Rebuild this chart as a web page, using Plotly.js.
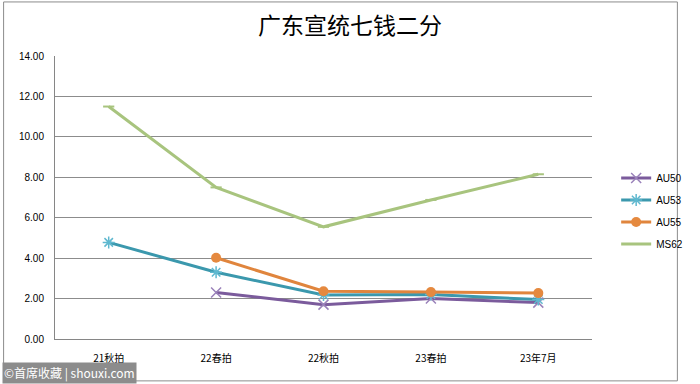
<!DOCTYPE html>
<html><head><meta charset="utf-8">
<script src="https://cdn.plot.ly/plotly-3.0.1.min.js"></script>
<style>html,body{margin:0;padding:0;background:#fff}#chart{width:700px;height:384px}</style>
</head><body><div id="chart"></div>
<script>
const categories = ['21秋拍','22春拍','22秋拍','23春拍','23年7月'];
const au50 = [null, 2.30, 1.70, 2.00, 1.80];
const au53 = [4.78, 3.30, 2.18, 2.20, 1.95];
const au55 = [null, 4.02, 2.36, 2.32, 2.27];
const ms62 = [11.50, 7.50, 5.55, 6.88, 8.15];
const yTicks = [0, 2, 4, 6, 8, 10, 12, 14];

const traces = [
  {name:'AU50', y:au50, line:{color:'#7b5b9c', width:3}, marker:{symbol:'x-thin-open', size:10, color:'#9a82ba', line:{width:1.5, color:'#9a82ba'}}},
  {name:'AU53', y:au53, line:{color:'#3b98ad', width:3}, marker:{symbol:'asterisk-open', size:10, color:'#5fb8cf', line:{width:1.5, color:'#5fb8cf'}}},
  {name:'AU55', y:au55, line:{color:'#e0853d', width:3}, marker:{symbol:'circle', size:10, color:'#e5893f'}},
  {name:'MS62', y:ms62, line:{color:'#a8c47e', width:3}, marker:{symbol:'line-ew-open', size:8, color:'#a8c47e', line:{width:2, color:'#a8c47e'}}}
].map(t => Object.assign({type:'scatter', mode:'lines+markers', x:categories, connectgaps:false, legendgroup:t.name}, t));

const layout = {
  width:700, height:384,
  margin:{l:55, r:91, t:56, b:45},
  paper_bgcolor:'#fff', plot_bgcolor:'#fff',
  font:{family:'"Noto Sans CJK SC", "Noto Sans", sans-serif', size:10, color:'#000'},
  title:{text:'广东宣统七钱二分', x:0.5, xanchor:'center', y:0.932, yanchor:'middle',
    font:{family:'"Noto Sans CJK SC", serif', size:23, color:'#000'}},
  xaxis:{type:'category', range:[-0.5, 4.5], showgrid:false, showline:true, linecolor:'#868686', linewidth:1,
    ticks:'', tickfont:{size:10, family:'"Noto Sans CJK SC", sans-serif'}, ticklabelstandoff:10, zeroline:false},
  yaxis:{range:[0, 14], tickvals:yTicks, ticktext:yTicks.map(v=>v.toFixed(2)), showgrid:true, gridcolor:'#8c8c8c', gridwidth:1,
    showline:true, linecolor:'#868686', linewidth:1, ticks:'', zeroline:false, ticklabelstandoff:8,
    tickfont:{size:10, family:'"Liberation Sans", sans-serif'}},
  showlegend:true,
  legend:{x:1.045, xanchor:'left', y:0.62, yanchor:'top', tracegroupgap:3, itemwidth:30,
    font:{size:10, family:'"Liberation Sans", sans-serif'}, bgcolor:'rgba(0,0,0,0)'},
  shapes:[
    {type:'rect', xref:'paper', yref:'paper', x0:-0.0957, x1:1.159, y0:-0.148, y1:1.191, line:{color:'#8c8c8c', width:1}, fillcolor:'rgba(0,0,0,0)'}
  ],
  annotations:[
    {text:'©首席收藏 | shouxi.com', xref:'paper', yref:'paper', x:-0.0993, y:-0.159, xanchor:'left', yanchor:'bottom',
     showarrow:false, bgcolor:'#8c8c8c', font:{color:'#fff', size:12, family:'"Noto Sans CJK SC", sans-serif'}, borderpad:1}
  ]
};
Plotly.newPlot('chart', traces, layout, {displayModeBar:false, staticPlot:true});
</script></body></html>
